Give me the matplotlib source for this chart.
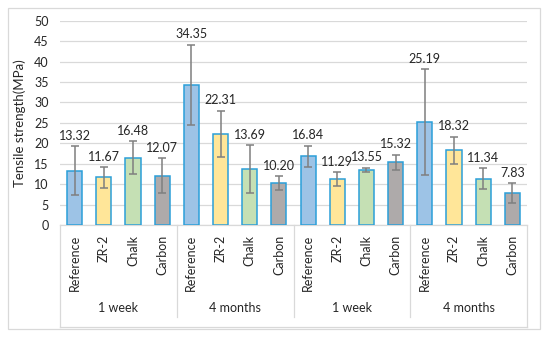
import matplotlib.pyplot as plt
from matplotlib.patches import Rectangle
import numpy as np

materials = ["Reference", "ZR-2", "Chalk", "Carbon"]
groups = ["1 week", "4 months", "1 week", "4 months"]
strength = [13.32, 11.67, 16.48, 12.07,
            34.35, 22.31, 13.69, 10.20,
            16.84, 11.29, 13.55, 15.32,
            25.19, 18.32, 11.34, 7.83]
errors = [5.9, 2.5, 4.0, 4.3,
          9.8, 5.7, 5.9, 1.7,
          2.6, 1.7, 0.5, 1.9,
          13.0, 3.3, 2.6, 2.4]

fill_colors = ["#9DC3E6", "#FFE699", "#C5E0B4", "#AEAAAA"]
edge_color = "#2B9FD9"
grid_color = "#D9D9D9"
text_color = "#262626"
fs = 9

plt.rcParams["font.family"] = ["Lato", "DejaVu Sans"]

fig = plt.figure(figsize=(5.5, 3.38), dpi=100)
W, H = 550, 338
ax = fig.add_axes([60 / W, 1 - 225 / H, 467 / W, 204.3 / H])

x = np.arange(len(strength))
colors = [fill_colors[i % 4] for i in range(len(strength))]
ax.bar(x, strength, width=0.52, color=colors, edgecolor=edge_color,
       linewidth=1.1, zorder=3)
ax.errorbar(x, strength, yerr=errors, fmt="none", ecolor="#7F7F7F",
            elinewidth=1.1, capsize=2.8, capthick=1.1, zorder=4)

for xi, v, e in zip(x, strength, errors):
    ax.annotate(f"{v:.2f}", (xi, v + e), xytext=(0, 3), textcoords="offset points",
                ha="center", va="bottom", fontsize=fs, color=text_color, zorder=5)

ax.set_xlim(-0.5, len(strength) - 0.5)
ax.set_ylim(0, 50)
ax.set_yticks(np.arange(0, 51, 5))
ax.yaxis.grid(True, color=grid_color, linewidth=0.9, zorder=0)
ax.tick_params(axis="y", length=0, pad=8, labelsize=fs, labelcolor=text_color)
ax.set_xticks(x)
ax.set_xticklabels([materials[i % 4] for i in x], rotation=90, va="top", ha="center")
ax.tick_params(axis="x", length=0, pad=7, labelsize=fs, labelcolor=text_color)
for s in ["top", "right", "left"]:
    ax.spines[s].set_visible(False)
ax.spines["bottom"].set_color(grid_color)
ax.spines["bottom"].set_linewidth(0.9)
ax.set_ylabel("Tensile strength(MPa)", fontsize=9.5, color=text_color, labelpad=6)

# multi-level category box
tr = ax.get_xaxis_transform()
bottom = -102 / 204.3
sep_bottom = -92 / 204.3
ax.plot([-0.5, -0.5], [0, bottom], transform=tr, color=grid_color, lw=0.9, clip_on=False)
ax.plot([15.5, 15.5], [0, bottom], transform=tr, color=grid_color, lw=0.9, clip_on=False)
ax.plot([-0.5, 15.5], [bottom, bottom], transform=tr, color=grid_color, lw=0.9, clip_on=False)
for b in [3.5, 7.5, 11.5]:
    ax.plot([b, b], [0, sep_bottom], transform=tr, color=grid_color, lw=0.9, clip_on=False)
for gi, g in enumerate(groups):
    ax.text(gi * 4 + 1.5, -83 / 204.3, g, transform=tr, ha="center", va="center",
            fontsize=fs, color=text_color)

fig.patches.append(Rectangle((8 / W, 1 - 329 / H), 532 / W, 321 / H,
                             transform=fig.transFigure, fill=False,
                             edgecolor=grid_color, linewidth=0.9))

fig.savefig("out.png", dpi=100)
